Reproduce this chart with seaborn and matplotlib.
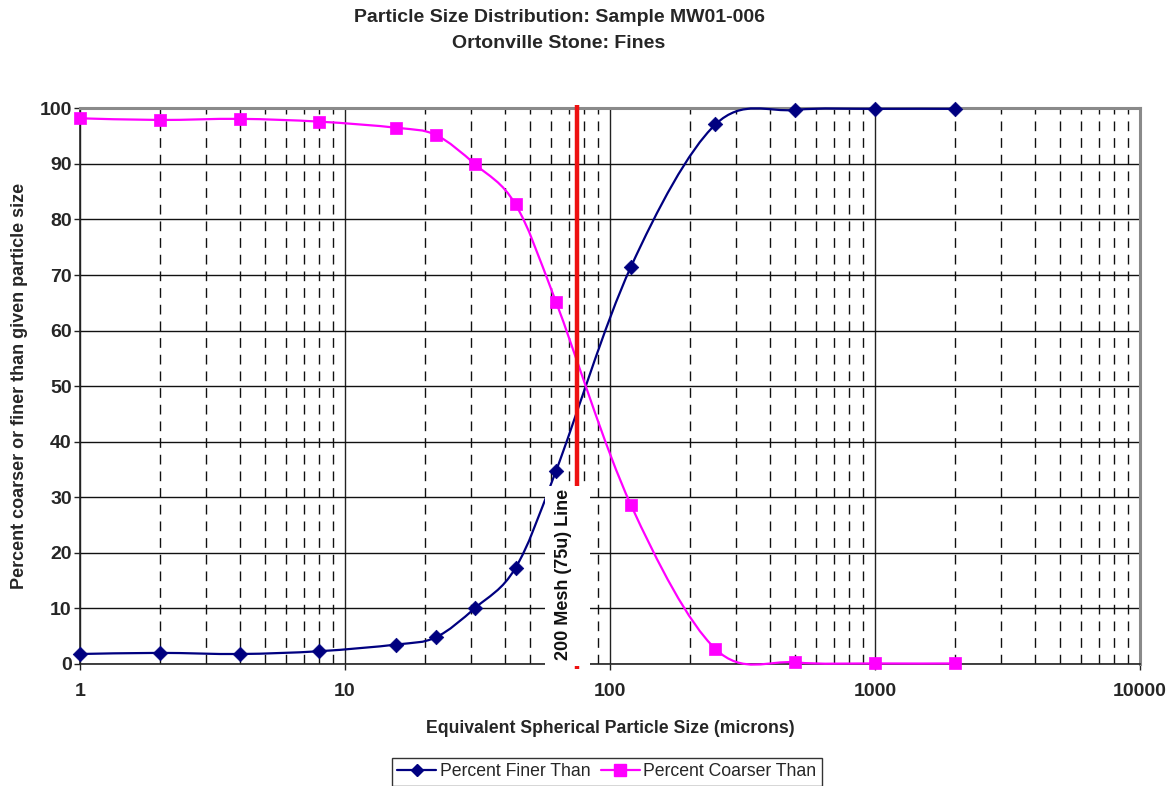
import numpy as np
import pandas as pd
import matplotlib
matplotlib.use("Agg")
import matplotlib.pyplot as plt
import seaborn as sns
from matplotlib.path import Path
from matplotlib.patches import PathPatch, Rectangle
from matplotlib.lines import Line2D
from matplotlib.ticker import FixedLocator, LogLocator, NullFormatter, FuncFormatter

# Particle sizes (microns) and cumulative percentages
sizes = [1, 2, 4, 8, 15.6, 22, 31, 44, 62.5, 120, 250, 500, 1000, 2000]
finer = [1.8, 2.0, 1.8, 2.3, 3.5, 4.8, 10.1, 17.3, 34.7, 71.5, 97.1, 99.7, 99.9, 99.9]
coarser = [98.2, 97.9, 98.1, 97.6, 96.5, 95.2, 89.9, 82.7, 65.2, 28.6, 2.7, 0.3, 0.1, 0.1]
mesh_size = 75
x_ticks = [1, 10, 100, 1000, 10000]
y_ticks = list(range(0, 101, 10))

NAVY = "#000080"
MAGENTA = "#FF00FF"

sns.set_theme(style="white")
plt.rcParams["font.family"] = ["Liberation Sans", "DejaVu Sans"]

fig = plt.figure(figsize=(11.68, 7.86), dpi=100)
ax = fig.add_axes([80 / 1168, 1 - 664 / 786, (1140 - 80) / 1168, (664 - 108.3) / 786])
ax.set_xscale("log")
ax.set_xlim(1, 10000)
ax.set_ylim(0, 100)


def smooth_path(xs, ys):
    """Bezier path through the points (Catmull-Rom style), built in log-x space."""
    lx = np.log10(np.asarray(xs, float))
    y = np.asarray(ys, float)
    n = len(lx)
    verts = [(10 ** lx[0], y[0])]
    codes = [Path.MOVETO]
    for i in range(n - 1):
        p0 = max(i - 1, 0)
        p3 = min(i + 2, n - 1)
        c1x = lx[i] + (lx[i + 1] - lx[p0]) / 6
        c1y = y[i] + (y[i + 1] - y[p0]) / 6
        c2x = lx[i + 1] - (lx[p3] - lx[i]) / 6
        c2y = y[i + 1] - (y[p3] - y[i]) / 6
        verts += [(10 ** c1x, c1y), (10 ** c2x, c2y), (10 ** lx[i + 1], y[i + 1])]
        codes += [Path.CURVE4] * 3
    return Path(verts, codes)


# grid: solid decades and horizontal lines, dashed minor verticals
ax.xaxis.set_major_locator(FixedLocator(x_ticks))
ax.xaxis.set_minor_locator(LogLocator(base=10, subs=range(2, 10)))
ax.xaxis.set_minor_formatter(NullFormatter())
ax.xaxis.set_major_formatter(FuncFormatter(lambda v, p: f"{int(v)}"))
ax.set_yticks(y_ticks)
ax.grid(which="major", axis="x", color="#222222", lw=1.0, ls="-")
ax.grid(which="minor", axis="x", color="#111111", lw=1.0, ls=(0, (7, 5)))
ax.grid(which="major", axis="y", color="#111111", lw=1.0, ls="-")
ax.set_axisbelow(True)

for name in ("left", "bottom"):
    ax.spines[name].set_color("#222222")
    ax.spines[name].set_linewidth(1.2)
for name in ("top", "right"):
    ax.spines[name].set_color("#8a8a8a")
    ax.spines[name].set_linewidth(2.2)

ax.tick_params(axis="both", which="major", length=4, width=1, color="#222222",
               labelsize=14, direction="out", bottom=True, left=True)
ax.tick_params(axis="y", which="major", pad=2)
ax.tick_params(axis="x", which="minor", length=0)
ax.tick_params(axis="x", which="major", pad=10)
for lab in ax.get_xticklabels() + ax.get_yticklabels():
    lab.set_fontweight("bold")

# smoothed curves
ax.add_patch(PathPatch(smooth_path(sizes, finer), fill=False, edgecolor=NAVY, lw=1.6, zorder=3,
                       clip_on=False))
ax.add_patch(PathPatch(smooth_path(sizes, coarser), fill=False, edgecolor=MAGENTA, lw=1.6, zorder=3,
                       clip_on=False))

df = pd.DataFrame({"size": sizes * 2,
                   "pct": finer + coarser,
                   "series": ["Percent Finer Than"] * len(sizes) + ["Percent Coarser Than"] * len(sizes)})
sns.scatterplot(data=df[df.series == "Percent Finer Than"], x="size", y="pct", ax=ax,
                marker="D", s=55, color=NAVY, edgecolor=NAVY, linewidth=0.5, zorder=4, legend=False,
                clip_on=False)
sns.scatterplot(data=df[df.series == "Percent Coarser Than"], x="size", y="pct", ax=ax,
                marker="s", s=85, color=MAGENTA, edgecolor=MAGENTA, linewidth=0.5, zorder=4, legend=False,
                clip_on=False)

# 200 mesh reference line with its label box
ax.plot([mesh_size, mesh_size], [-0.9, 100.6], color="#EE1111", lw=3.2, zorder=5, clip_on=False,
        solid_capstyle="butt")
ax.add_patch(Rectangle((56.9, -0.35), 84.0 - 56.9, 32.3, facecolor="white", edgecolor="none",
                       zorder=6, clip_on=False))
ax.text(66.5, 16.2, "200 Mesh (75u) Line", rotation=90, ha="center", va="center",
        fontsize=13, fontweight="bold", color="#111111", zorder=7)

ax.set_xlabel("Equivalent Spherical Particle Size (microns)", fontsize=12.7, fontweight="bold", labelpad=14)
ax.set_ylabel("Percent coarser or finer than given particle size", fontsize=13, fontweight="bold", labelpad=8)

fig.text(559 / 1168, 1 - 17 / 786, "Particle Size Distribution: Sample MW01-006", ha="center", va="center",
         fontsize=14, fontweight="bold")
fig.text(559 / 1168, 1 - 44 / 786, "Ortonville Stone: Fines", ha="center", va="center",
         fontsize=14, fontweight="bold")

handles = [Line2D([], [], color=NAVY, lw=1.6, marker="D", markersize=6),
           Line2D([], [], color=MAGENTA, lw=1.6, marker="s", markersize=8)]
leg = fig.legend(handles, ["Percent Finer Than", "Percent Coarser Than"], loc="center",
                 bbox_to_anchor=(607 / 1168, 1 - 772 / 786), ncol=2, fontsize=12.7, frameon=True,
                 fancybox=False, edgecolor="black", handlelength=2.2, handletextpad=0.2,
                 columnspacing=0.6, borderpad=0.3)
leg.get_frame().set_linewidth(1.0)

fig.savefig("out.png", dpi=100, facecolor="white")
